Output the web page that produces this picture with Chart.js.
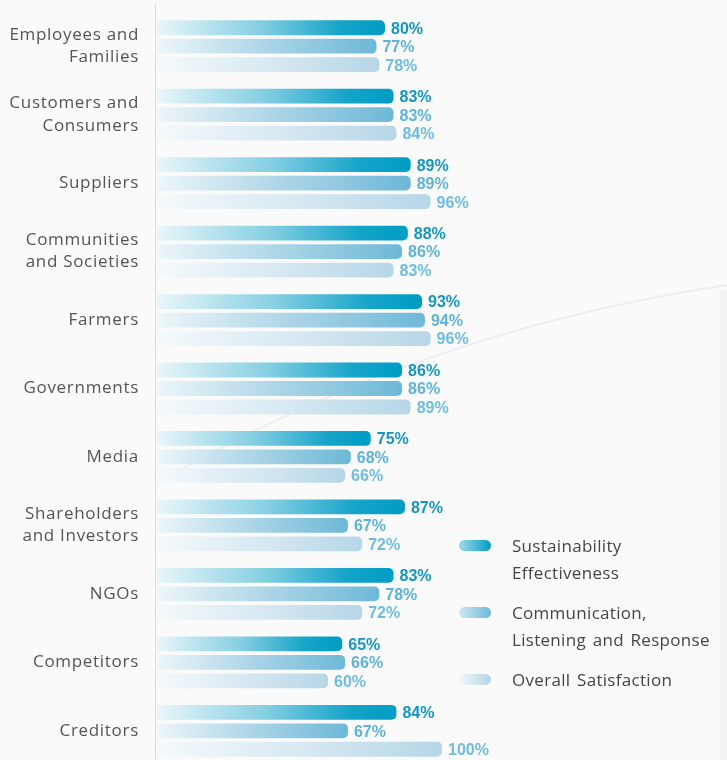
<!DOCTYPE html>
<html>
<head>
<meta charset="utf-8">
<script src="https://cdn.jsdelivr.net/npm/chart.js@4.4.1/dist/chart.umd.min.js"></script>
<style>
html,body{margin:0;padding:0;overflow:hidden;background:#fafafb;}
#wrap{position:relative;width:727px;height:766px;}
#legend{position:absolute;left:459px;top:532px;font-family:"Open Sans",sans-serif;font-size:17px;color:#454545;letter-spacing:0.3px;word-spacing:2px;}
.item{position:relative;padding-left:53px;line-height:27px;margin-bottom:13px;}
.item.last{margin-top:1px;}
.pill{position:absolute;left:0;top:8px;width:32px;height:11px;border-radius:6px;}
</style>
</head>
<body>
<div id="wrap">
<canvas id="c"></canvas>
<div id="legend">
  <div class="item"><span class="pill" style="background:linear-gradient(to right,#9fdaea,#009cc4)"></span>Sustainability<br>Effectiveness</div>
  <div class="item"><span class="pill" style="background:linear-gradient(to right,#cde8f2,#6db8d7)"></span>Communication,<br>Listening and Response</div>
  <div class="item last"><span class="pill" style="background:linear-gradient(to right,#f2f8fb,#b5d5e6)"></span>Overall Satisfaction</div>
</div>
</div>
<script>
const categories = [
  ["Employees and","Families"],
  ["Customers and","Consumers"],
  "Suppliers",
  ["Communities","and Societies"],
  "Farmers",
  "Governments",
  "Media",
  ["Shareholders","and Investors"],
  "NGOs",
  "Competitors",
  "Creditors"
];
const sustainabilityEffectiveness = [80,83,89,88,93,86,75,87,83,65,84];
const communicationListeningResponse = [77,83,89,86,94,86,68,67,78,66,67];
const overallSatisfaction = [78,84,96,83,96,89,66,72,72,60,100];
const seriesNames = ["Sustainability Effectiveness","Communication, Listening and Response","Overall Satisfaction"];

function grad(stops){
  return function(ctx){
    const chart = ctx.chart, a = chart.chartArea;
    if(!a || ctx.type !== 'data') return stops[stops.length-1][1];
    const x1 = chart.scales.x.getPixelForValue(ctx.parsed ? ctx.parsed.x : ctx.raw);
    const g = chart.ctx.createLinearGradient(a.left,0,Math.max(x1,a.left+1),0);
    stops.forEach(s=>g.addColorStop(s[0],s[1]));
    return g;
  };
}
const labelColors = ['#1197c2','#5cb4d8','#6cbde0'];

const bgPlugin = {
  id:'bg',
  beforeDraw(chart){
    const c = chart.ctx;
    c.save();
    c.strokeStyle='rgba(210,214,220,0.35)';
    c.lineWidth=2;
    c.beginPath();
    c.moveTo(180,470);
    c.quadraticCurveTo(430,330,727,285);
    c.stroke();
    c.fillStyle='rgba(228,232,236,0.45)';
    c.fillRect(720,290,7,480);
    c.strokeStyle='#dcdcdc';
    c.lineWidth=1;
    c.beginPath();
    c.moveTo(155.5,4);
    c.lineTo(155.5,766);
    c.stroke();
    c.restore();
    c.letterSpacing = '0.7px';
  },
  beforeDatasetsDraw(chart){
    chart.ctx.letterSpacing = '0px';
  }
};
const valuePlugin = {
  id:'vals',
  afterDatasetsDraw(chart){
    const c = chart.ctx;
    c.save();
    c.letterSpacing = '0px';
    c.font = 'bold 16px "Liberation Sans", Arial, sans-serif';
    c.textBaseline = 'middle';
    c.textAlign = 'left';
    chart.data.datasets.forEach((ds,i)=>{
      const meta = chart.getDatasetMeta(i);
      c.fillStyle = labelColors[i];
      meta.data.forEach((el,j)=>{
        c.fillText(ds.data[j]+'%', el.x+6, el.y+1.5);
      });
    });
    c.restore();
  }
};

new Chart(document.getElementById('c'),{
  type:'bar',
  data:{
    labels:categories,
    datasets:[
      {label:seriesNames[0],data:sustainabilityEffectiveness,
       backgroundColor:grad([[0,'#eaf6f9'],[0.45,'#86cfe2'],[0.8,'#16a4c9'],[1,'#009cc4']])},
      {label:seriesNames[1],data:communicationListeningResponse,
       backgroundColor:grad([[0,'#eef6f9'],[0.5,'#acd5e7'],[1,'#6db8d7']])},
      {label:seriesNames[2],data:overallSatisfaction,
       backgroundColor:grad([[0,'#f5f9fb'],[0.5,'#d8e9f2'],[1,'#b6d6e7']])}
    ]
  },
  options:{
    indexAxis:'y',
    responsive:true,
    maintainAspectRatio:false,
    animation:false,
    layout:{padding:{top:12,right:285,bottom:1,left:0}},
    datasets:{bar:{categoryPercentage:0.81,barPercentage:0.8,borderRadius:5,borderSkipped:'start'}},
    plugins:{legend:{display:false},tooltip:{enabled:false}},
    scales:{
      x:{display:false,min:0,max:100},
      y:{
        grid:{display:false,drawTicks:false},
        border:{display:false},
        ticks:{padding:18,color:'#555',font:{family:'"Open Sans", sans-serif',size:17,lineHeight:1.3}},
        afterFit(s){ s.width = 157; s.paddingTop = 0; s.paddingBottom = 0; }
      }
    }
  },
  plugins:[bgPlugin,valuePlugin]
});
</script>
</body>
</html>
